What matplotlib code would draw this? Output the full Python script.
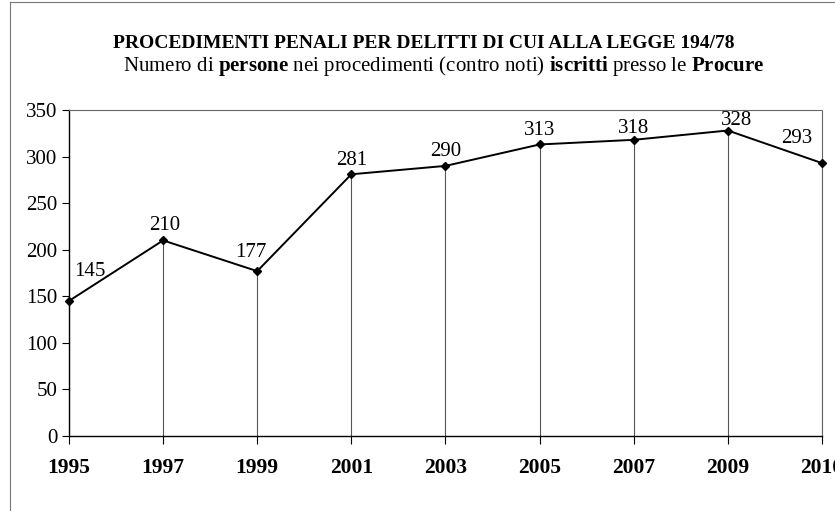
import matplotlib.pyplot as plt
from matplotlib.lines import Line2D

plt.rcParams['font.family'] = ['Liberation Serif', 'DejaVu Serif']
plt.rcParams['mathtext.fontset'] = 'custom'
plt.rcParams['mathtext.rm'] = 'Liberation Serif'
plt.rcParams['mathtext.bf'] = 'Liberation Serif:bold'

# data
years = ['1995', '1997', '1999', '2001', '2003', '2005', '2007', '2009', '2010']
persone = [145, 210, 177, 281, 290, 313, 318, 328, 293]

# label offsets in pixels (dx, dy)
offsets = [(21, 29), (2, 15), (-6, 19), (0, 14), (0, 14), (0, 14), (0, 11), (9, 10), (-25, 25)]

fig = plt.figure(figsize=(8.35, 5.11), dpi=100)
ax = fig.add_axes([0.0826, 0.1468, 0.9018, 0.6379])

x = list(range(len(years)))
ax.vlines(x, 0, persone, colors='#555555', linewidth=0.8)
ax.plot(x, persone, color='black', linewidth=1.4, marker='D', markersize=4.5, clip_on=False, zorder=3)

for xi, v, (dx, dy) in zip(x, persone, offsets):
    ax.annotate(str(v), (xi, v), xytext=(dx, dy), textcoords='offset pixels',
                ha='center', va='center', fontsize=15)

ax.set_xlim(0, len(years) - 1)
ax.set_ylim(0, 350)
ax.set_yticks(range(0, 351, 50))
ax.set_xticks(x)
ax.set_xticklabels(years, fontweight='bold', fontsize=15.5)
ax.tick_params(axis='y', labelsize=15, direction='out', length=5, width=0.8)
ax.tick_params(axis='x', direction='out', length=6, width=0.8, pad=10)

for s in ['top', 'right']:
    ax.spines[s].set_linestyle((0, (1, 1)))
    ax.spines[s].set_color('#666666')
    ax.spines[s].set_linewidth(0.8)
ax.spines['left'].set_linewidth(1.0)
ax.spines['bottom'].set_linewidth(1.0)

fig.text(0.507, 0.914, 'PROCEDIMENTI PENALI PER DELITTI DI CUI ALLA LEGGE 194/78',
         ha='center', va='center', fontsize=14, fontweight='bold')
fig.text(0.532, 0.870,
         r'Numero di $\mathbf{persone}$ nei procedimenti (contro noti) $\mathbf{iscritti}$ presso le $\mathbf{Procure}$',
         ha='center', va='center', fontsize=15)

# outer border of the scanned chart
fig.add_artist(Line2D([0.012, 0.012], [0.0, 0.996], color='#777777', linewidth=0.8))
fig.add_artist(Line2D([0.012, 1.0], [0.996, 0.996], color='#777777', linewidth=0.8))

fig.savefig('out.png', dpi=100)
